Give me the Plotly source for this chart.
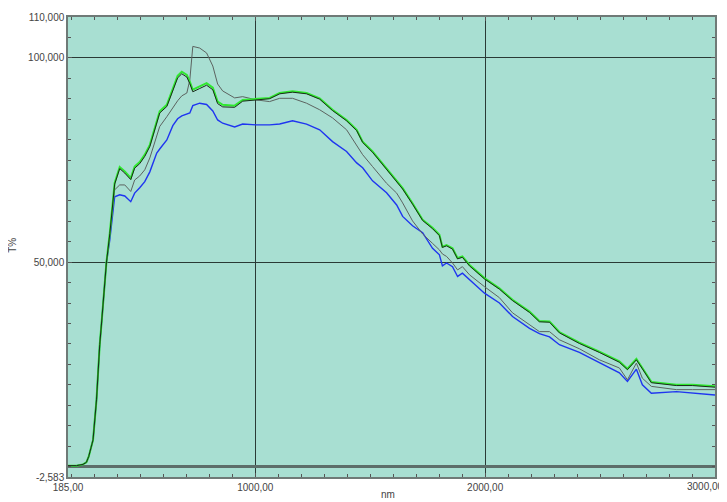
import plotly.graph_objects as go

wavelength = [185, 222, 250, 265, 275, 287, 294, 309, 316, 323, 331, 345, 352,
              367, 388, 410, 432, 458, 475, 497, 519, 541, 571,
              584, 615, 641, 662, 680, 702, 715, 728, 758, 788,
              815, 836, 858, 910, 945, 1006, 1062, 1106, 1162, 1223,
              1280, 1336, 1397, 1441, 1467, 1510, 1571, 1615, 1641, 1684,
              1728, 1771, 1801, 1814, 1832, 1858, 1880, 1901, 1932, 1997,
              2062, 2119, 2193, 2236, 2280, 2323, 2410, 2497, 2584, 2619,
              2658, 2684, 2723, 2832, 2902, 3000]

t_green = [0.2, 0.2, 0.5, 1.0, 2.4, 4.9, 6.5, 16.3, 24.4, 29.8, 35.1, 45.1, 49.8,
           57.2, 69.4, 73.3, 72.2, 70.6, 73.4, 74.5, 76.3, 78.7, 84.3,
           86.9, 88.5, 92.2, 95.6, 96.6, 95.8, 94.2, 92.2, 93.0, 93.8,
           92.7, 89.3, 88.5, 88.3, 89.7, 90.0, 90.2, 91.4, 91.8, 91.4,
           90.1, 87.3, 84.8, 82.4, 79.5, 77.1, 73.0, 70.1, 68.1, 64.4,
           60.4, 58.4, 56.7, 53.8, 54.2, 53.4, 51.0, 51.4, 49.3, 46.1,
           43.6, 40.8, 37.9, 35.6, 35.5, 32.9, 30.3, 28.1, 25.7, 23.9,
           26.3, 24.1, 20.7, 20.0, 20.0, 19.6]

t_black = [0.2, 0.2, 0.5, 1.0, 2.4, 4.9, 6.5, 16.3, 24.4, 29.8, 35.1, 45.1, 49.8,
           57.0, 69.1, 72.9, 71.8, 70.2, 73.0, 74.1, 75.9, 78.3, 83.9,
           86.5, 88.1, 91.8, 95.1, 96.1, 95.3, 93.7, 91.7, 92.5, 93.3,
           92.2, 88.8, 88.0, 87.9, 89.4, 89.8, 90.0, 91.2, 91.6, 91.2,
           89.9, 87.1, 84.6, 82.2, 79.3, 76.9, 72.8, 69.9, 67.9, 64.2,
           60.2, 58.2, 56.5, 53.6, 54.0, 53.2, 50.8, 51.2, 49.1, 45.9,
           43.4, 40.6, 37.7, 35.4, 35.3, 32.7, 30.1, 27.9, 25.5, 23.7,
           26.1, 23.9, 20.5, 19.8, 19.8, 19.4]

t_gray = [0.2, 0.2, 0.5, 1.0, 2.4, 4.9, 6.5, 16.3, 24.4, 29.8, 35.1, 45.1, 49.8,
          56.7, 67.7, 68.9, 68.9, 67.3, 70.1, 71.1, 72.6, 75.5, 81.2,
          83.2, 85.6, 87.8, 89.5, 90.7, 91.4, 94.6, 102.8, 102.4, 101.2,
          98.0, 93.6, 91.9, 90.2, 90.5, 89.7, 89.3, 90.1, 90.1, 88.9,
          87.3, 85.3, 82.4, 78.5, 76.3, 73.4, 69.3, 66.9, 64.5, 60.1,
          56.9, 54.6, 53.0, 52.0, 51.4, 49.8, 48.1, 48.9, 46.9, 44.0,
          41.3, 37.6, 34.7, 33.0, 33.0, 31.0, 28.8, 26.1, 24.1, 21.2,
          25.3, 21.6, 19.6, 18.8, 18.8, 18.8]

t_blue = [0.2, 0.2, 0.5, 1.0, 2.4, 4.9, 6.5, 16.3, 24.4, 29.8, 35.1, 45.1, 49.8,
          55.5, 66.0, 66.5, 66.2, 64.8, 66.9, 68.2, 69.7, 72.1, 76.7,
          77.7, 79.9, 83.4, 85.1, 85.8, 86.3, 86.5, 88.3, 88.9, 88.6,
          87.0, 84.8, 84.0, 83.1, 83.8, 83.6, 83.6, 83.8, 84.6, 83.8,
          82.4, 79.5, 77.1, 74.3, 73.1, 69.9, 67.0, 64.0, 61.2, 58.9,
          57.2, 53.4, 51.8, 49.1, 49.8, 48.9, 46.5, 47.3, 45.7, 42.4,
          40.0, 36.7, 33.8, 32.5, 31.7, 29.8, 27.9, 25.3, 22.9, 20.8,
          23.8, 20.0, 17.9, 18.3, 17.9, 17.5]

x_tickvals = [185, 1000, 2000, 3000]
x_ticktext = ["185,00", "1000,00", "2000,00", ""]
x_last_label = "3000,00"
y_tickvals = [-2.583, 50, 100, 110]
y_ticktext = ["-2,583", "50,000", "100,000", "110,000"]

fig = go.Figure()
series = [
    (t_blue, "#1f35f0", 1.4),
    (t_gray, "#5c6360", 1.0),
    (t_green, "#2fe82f", 2.0),
    (t_black, "#1a2a1a", 1.0),
]
for vals, col, w in series:
    fig.add_trace(go.Scatter(x=wavelength, y=vals, mode="lines",
                             line=dict(color=col, width=w), showlegend=False,
                             hoverinfo="skip"))

font = dict(family="Liberation Sans, Arial, sans-serif", size=10, color="#444444")

# page body has an 8px margin, so the figure is sized to fit the window
fig.update_layout(
    width=719, height=494,
    margin=dict(l=60, r=12, t=9, b=25, autoexpand=False),
    paper_bgcolor="white",
    plot_bgcolor="#a8dfd2",
    font=font,
    showlegend=False,
    xaxis=dict(range=[185, 3000], tickvals=x_tickvals, ticktext=x_ticktext,
               automargin=False, ticklabeloverflow="allow",
               showgrid=True, gridcolor="#2a3a36", gridwidth=1,
               showline=True, linecolor="#6f7a77", linewidth=1.5, mirror="ticks",
               ticks="inside", ticklen=4, tickcolor="#555555",
               minor=dict(dtick=100, tick0=0, ticks="inside", ticklen=3,
                          tickcolor="#555555", showgrid=False),
               zeroline=False, tickfont=font),
    yaxis=dict(range=[-2.583, 110], tickvals=y_tickvals, ticktext=y_ticktext,
               automargin=False, ticklabeloverflow="allow",
               showgrid=True, gridcolor="#2a3a36", gridwidth=1,
               showline=True, linecolor="#6f7a77", linewidth=1.5, mirror="ticks",
               ticks="inside", ticklen=4, tickcolor="#555555",
               minor=dict(dtick=5, tick0=0, ticks="inside", ticklen=3,
                          tickcolor="#555555", showgrid=False),
               zeroline=True, zerolinecolor="#5d6e6a", zerolinewidth=2.5,
               tickfont=font),
    annotations=[
        dict(text="T%", xref="paper", yref="paper", x=-0.087, y=0.504,
             showarrow=False, textangle=-90, font=font,
             xanchor="center", yanchor="middle"),
        dict(text="nm", xref="paper", yref="paper", x=0.494, y=-0.038,
             showarrow=False, font=font, xanchor="center", yanchor="middle"),
        dict(text=x_last_label, xref="paper", yref="paper", x=1.017, y=-0.005,
             showarrow=False, font=font, xanchor="right", yanchor="top"),
    ],
)

fig.write_html("out.html")
